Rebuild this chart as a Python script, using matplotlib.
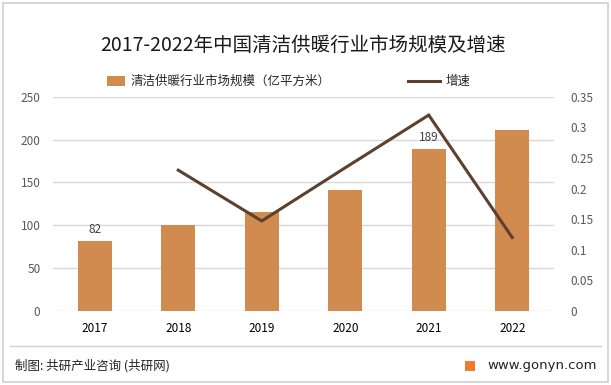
import matplotlib
matplotlib.use("Agg")
import matplotlib.pyplot as plt
from matplotlib.patches import Rectangle, FancyBboxPatch
from matplotlib.lines import Line2D
from matplotlib.ticker import FixedLocator

plt.rcParams['font.family'] = ['Noto Sans CJK SC', 'DejaVu Sans']

years = ['2017', '2018', '2019', '2020', '2021', '2022']
market_size = [82, 100, 115, 141, 189, 211]
growth_years = ['2018', '2019', '2020', '2021', '2022']
growth = [0.23, 0.147, 0.234, 0.32, 0.12]
labeled = {'2017': '82', '2021': '189'}

left_ticks = [0, 50, 100, 150, 200, 250]
right_ticks = [0, 0.05, 0.1, 0.15, 0.2, 0.25, 0.3, 0.35]
right_labels = ['0', '0.05', '0.1', '0.15', '0.2', '0.25', '0.3', '0.35']

bar_color = '#D28B4E'
line_color = '#5A4130'
W, H = 611, 385
fig = plt.figure(figsize=(W / 100, H / 100), dpi=100)

# outer frame
fig.patches.append(Rectangle((3 / W, 3 / H), (W - 6) / W, (H - 6) / H, transform=fig.transFigure,
                             fill=False, edgecolor='#D0D0D0', linewidth=1.2))

ax = fig.add_axes([53 / W, 1 - 311 / H, (554 - 53) / W, (311 - 96.7) / H])
x = list(range(len(years)))
ax.bar(x, market_size, width=0.41, color=bar_color, zorder=3, label='清洁供暖行业市场规模（亿平方米）')
for i, y in enumerate(years):
    if y in labeled:
        ax.text(i, market_size[i] + 6, labeled[y], ha='center', va='bottom', fontsize=8.5, color='#404040')
ax.set_xlim(-0.5, len(years) - 0.5)
ax.set_ylim(0, 250)
ax.yaxis.set_major_locator(FixedLocator(left_ticks))
ax.grid(axis='y', color='#D9D9D9', linewidth=1, zorder=0)
ax.set_axisbelow(True)
for s in ax.spines.values():
    s.set_visible(False)
ax.tick_params(axis='both', length=0)
ax.tick_params(axis='y', labelsize=8.5, labelcolor='#595959', pad=9)
ax.set_xticks(x)
ax.set_xticklabels(years, fontsize=8.5, color='#000000')
ax.tick_params(axis='x', pad=8)

ax2 = ax.twinx()
gx = [years.index(g) for g in growth_years]
ax2.plot(gx, growth, color=line_color, linewidth=2.2, zorder=4, solid_joinstyle='miter', label='增速')
ax2.set_ylim(0, 0.35)
ax2.yaxis.set_major_locator(FixedLocator(right_ticks))
ax2.set_yticklabels(right_labels)
for s in ax2.spines.values():
    s.set_visible(False)
ax2.tick_params(axis='y', length=0, labelsize=8.5, labelcolor='#595959', pad=12)

# title
fig.text(303 / W, 1 - 45 / H, '2017-2022年中国清洁供暖行业市场规模及增速', ha='center', va='center',
         fontsize=14, color='#1a1a1a')

# legend (manual)
ly = 1 - 81 / H
fig.patches.append(Rectangle((107 / W, ly - 5 / H), 18 / W, 10 / H, transform=fig.transFigure,
                             facecolor=bar_color, edgecolor='none'))
fig.text(131 / W, ly, '清洁供暖行业市场规模（亿平方米）', ha='left', va='center', fontsize=9, color='#262626')
fig.lines.append(Line2D([408 / W, 440 / W], [ly, ly], transform=fig.transFigure, color=line_color, linewidth=2.2))
fig.text(446 / W, ly, '增速', ha='left', va='center', fontsize=9, color='#262626')

# footer
fig.lines.append(Line2D([10 / W, 601 / W], [1 - 346 / H, 1 - 346 / H], transform=fig.transFigure,
                        color='#D0D0D0', linewidth=1))
fig.text(15 / W, 1 - 366 / H, '制图: 共研产业咨询 (共研网)', ha='left', va='center', fontsize=9, color='#222222')
fig.patches.append(FancyBboxPatch((465 / W, 1 - 371 / H), 10 / W, 10 / H, transform=fig.transFigure,
                                  boxstyle='round,pad=0', facecolor='#F07B2B', edgecolor='none'))
fig.text(597 / W, 1 - 366 / H, 'www.gonyn.com', ha='right', va='center', fontsize=9.5, color='#222222',
         family=['DejaVu Sans'])

fig.savefig('out.png', dpi=100)
